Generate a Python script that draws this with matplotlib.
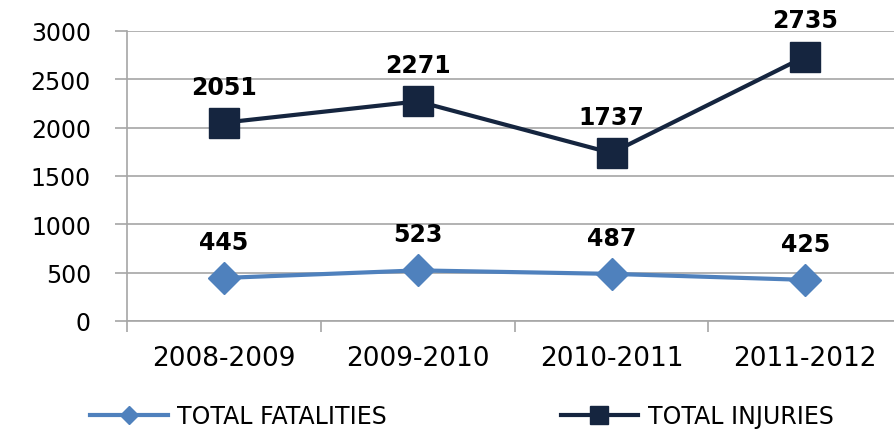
import matplotlib.pyplot as plt

years = ['2008-2009', '2009-2010', '2010-2011', '2011-2012']
fatalities = [445, 523, 487, 425]
injuries = [2051, 2271, 1737, 2735]
y_ticks = [0, 500, 1000, 1500, 2000, 2500, 3000]

light = '#4F81BD'
dark = '#15253F'
grey = '#A6A6A6'

fig = plt.figure(figsize=(8.95, 4.31), dpi=100)
ax = fig.add_axes([0.142, 0.253, 0.866, 0.673])

x = range(len(years))
ax.plot(x, fatalities, color=light, linewidth=3, marker='D', markersize=16,
        label='TOTAL FATALITIES', zorder=3)
ax.plot(x, injuries, color=dark, linewidth=3, marker='s', markersize=21,
        label='TOTAL INJURIES', zorder=3)

# etykiety wartości nad punktami
for series in (fatalities, injuries):
    for i, v in enumerate(series):
        ax.annotate(str(v), (i, v), xytext=(0, 26), textcoords='offset points',
                    ha='center', va='center', fontsize=17, fontweight='bold',
                    family='DejaVu Sans', color='black')

ax.set_xlim(-0.5, 3.5)
ax.set_ylim(0, 3000)
ax.set_yticks(y_ticks)
ax.set_yticklabels([str(t) for t in y_ticks], family='DejaVu Sans', fontsize=17)
ax.set_xticks(list(x))
ax.set_xticklabels(years, family='DejaVu Sans', fontsize=19)
ax.set_xticks([-0.5, 0.5, 1.5, 2.5], minor=True)
ax.tick_params(axis='x', which='major', length=0, pad=17)
ax.tick_params(axis='x', which='minor', length=8, color=grey, width=1.2)
ax.tick_params(axis='y', length=9, color=grey, width=1.2, pad=17)

ax.grid(axis='y', color=grey, linewidth=1.2)
ax.set_axisbelow(True)
for s in ['top', 'right']:
    ax.spines[s].set_visible(False)
for s in ['left', 'bottom']:
    ax.spines[s].set_color(grey)
    ax.spines[s].set_linewidth(1.2)

fig.legend(loc='lower center', bbox_to_anchor=(0.516, -0.045), ncol=2,
           frameon=False, prop={'family': 'DejaVu Sans', 'size': 17},
           handlelength=3.3, handletextpad=0.4, columnspacing=7.35,
           markerscale=0.6)

fig.savefig('out.png', dpi=100)
